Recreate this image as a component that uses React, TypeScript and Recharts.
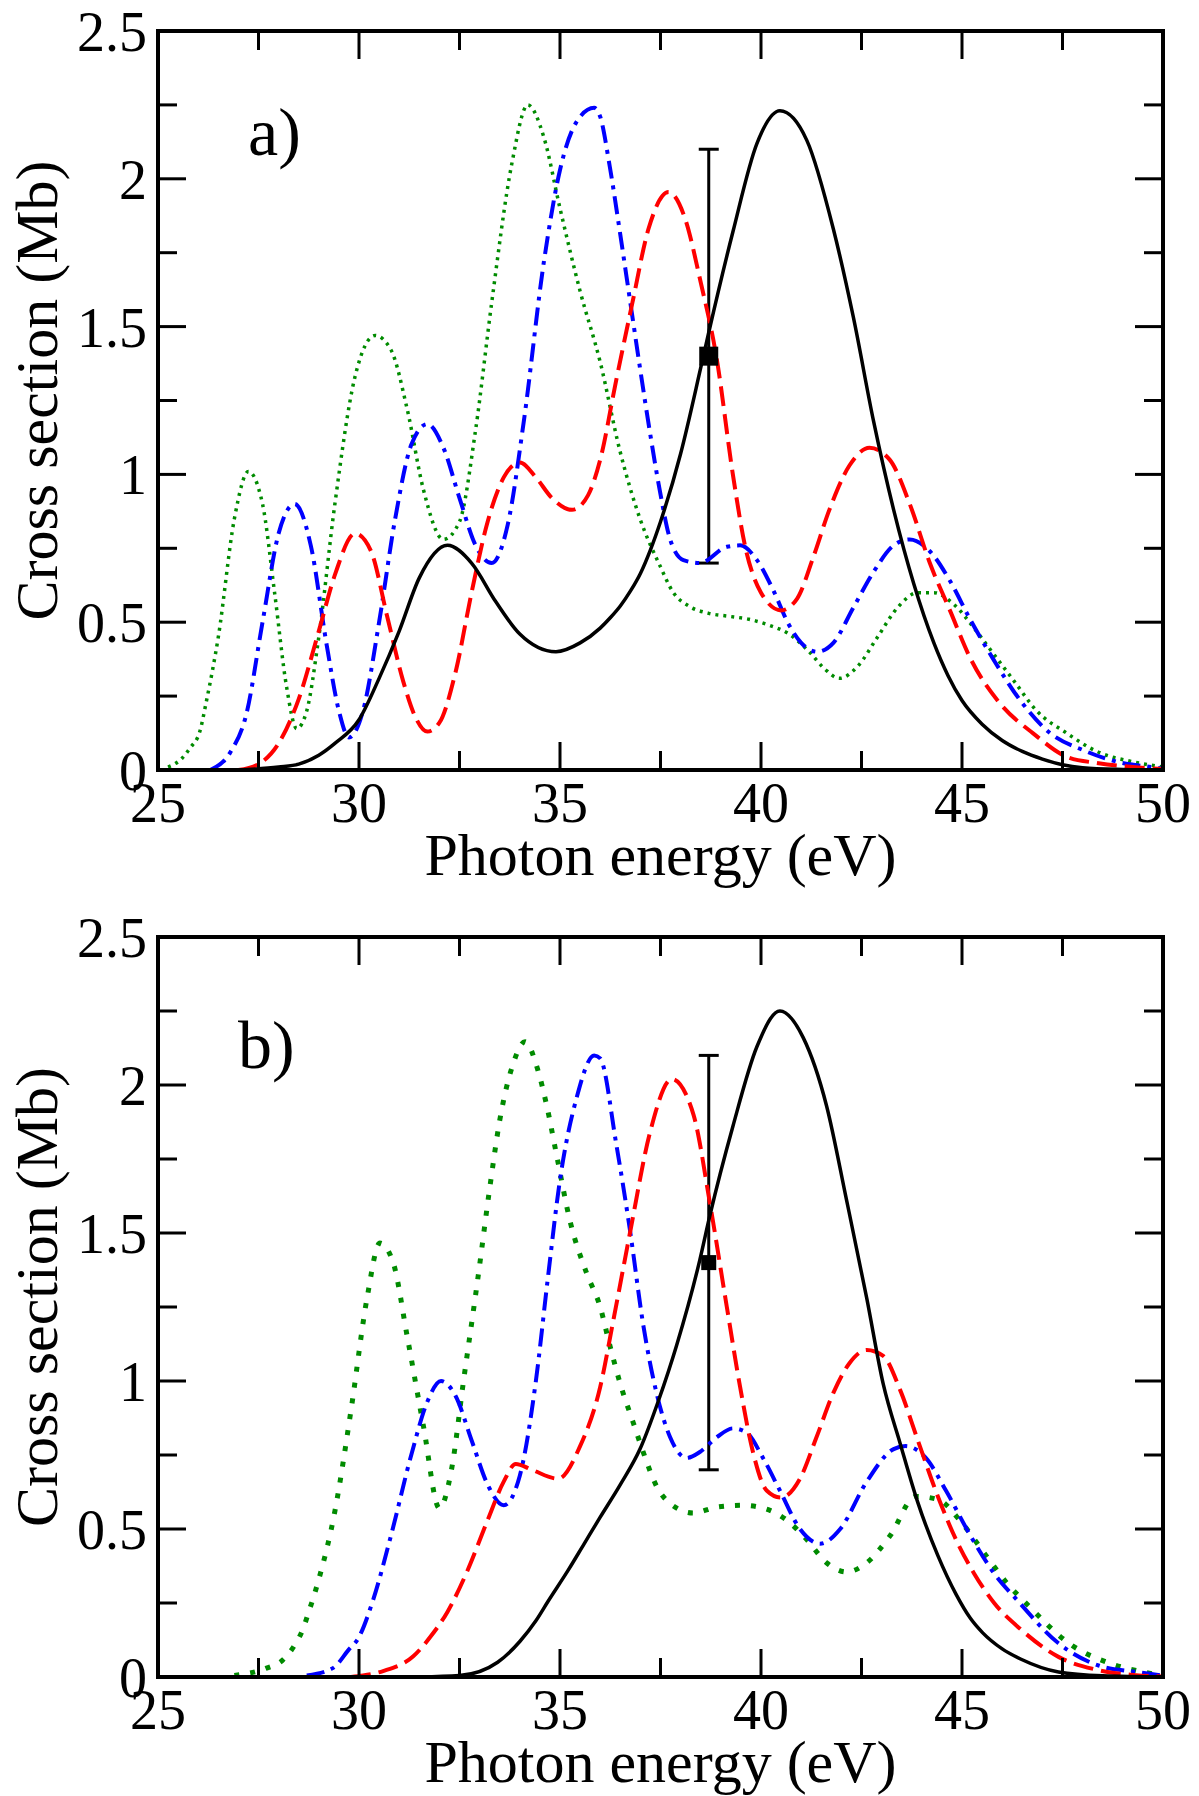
import React from "react";
import { ComposedChart, Line, Scatter, ErrorBar, XAxis, YAxis } from "recharts";

const SERIF = '"Liberation Serif", "Times New Roman", Times, serif';
const W = 1199;
const H = 898;

// axis ticks, minor ones included (labels only on the major ones)
const energyTicks = [25, 27.5, 30, 32.5, 35, 37.5, 40, 42.5, 45, 47.5, 50];
const sigmaTicks = [0, 0.25, 0.5, 0.75, 1, 1.25, 1.5, 1.75, 2, 2.25, 2.5];

// ---- panel a) ----
const aBlackE = [27.0, 28.0, 28.5, 29.0, 29.4, 30.0, 30.5, 31.0, 31.5, 32.2, 32.8, 33.4, 34.0, 34.9, 35.5, 36.0, 36.25, 36.5, 36.75, 37.0, 37.25, 37.5, 38.0, 38.5, 38.7, 39.3, 39.9, 40.47, 41.14, 41.8, 42.3, 42.8, 43.3, 43.8, 44.3, 44.65, 45.0, 45.5, 46.0, 46.5, 47.0, 47.5, 48.0, 49.0, 50.0];
const aBlackS = [0, 0.01, 0.02, 0.05, 0.09, 0.17, 0.31, 0.47, 0.65, 0.76, 0.70, 0.57, 0.46, 0.40, 0.43, 0.48, 0.515, 0.555, 0.605, 0.665, 0.745, 0.84, 1.07, 1.36, 1.48, 1.82, 2.12, 2.23, 2.13, 1.83, 1.53, 1.18, 0.88, 0.63, 0.43, 0.32, 0.235, 0.155, 0.10, 0.063, 0.037, 0.018, 0.008, 0.002, 0];

const aRedE = [27.0, 27.5, 28.0, 28.5, 29.0, 29.4, 29.9, 30.3, 30.7, 31.1, 31.4, 31.7, 32.0, 32.4, 32.8, 33.2, 33.6, 34.0, 34.4, 34.8, 35.3, 35.7, 36.0, 36.4, 36.8, 37.2, 37.7, 38.1, 38.5, 38.9, 39.3, 39.6, 40.0, 40.5, 40.9, 41.3, 41.7, 42.2, 42.7, 43.2, 43.7, 44.2, 44.7, 45.2, 45.94, 46.77, 47.6, 48.4, 49.25, 50.0];
const aRedS = [0, 0.02, 0.09, 0.24, 0.47, 0.66, 0.80, 0.74, 0.52, 0.30, 0.18, 0.13, 0.16, 0.33, 0.60, 0.84, 0.99, 1.04, 0.99, 0.92, 0.88, 0.93, 1.05, 1.32, 1.58, 1.83, 1.955, 1.87, 1.65, 1.39, 1.0, 0.76, 0.6, 0.54, 0.58, 0.72, 0.88, 1.03, 1.09, 1.05, 0.90, 0.70, 0.54, 0.38, 0.226, 0.124, 0.045, 0.023, 0.01, 0.003];

const aBlueE = [26.3, 26.8, 27.2, 27.6, 28.0, 28.4, 28.8, 29.2, 29.5, 29.75, 30.1, 30.5, 30.9, 31.3, 31.7, 32.1, 32.5, 32.9, 33.3, 33.7, 34.1, 34.6, 35.0, 35.4, 35.85, 36.0, 36.24, 36.49, 36.74, 36.99, 37.24, 37.49, 37.74, 38.07, 38.48, 39.15, 39.48, 39.9, 40.3, 40.7, 41.0, 41.4, 41.8, 42.3, 42.8, 43.3, 43.7, 44.2, 44.7, 45.2, 45.8, 46.44, 47.19, 48.0, 48.86, 49.7, 50];
const aBlueS = [0, 0.06, 0.19, 0.50, 0.80, 0.90, 0.76, 0.42, 0.20, 0.11, 0.20, 0.50, 0.85, 1.10, 1.17, 1.09, 0.92, 0.76, 0.70, 0.83, 1.18, 1.72, 2.03, 2.19, 2.24, 2.21, 2.04, 1.82, 1.59, 1.36, 1.14, 0.94, 0.78, 0.71, 0.70, 0.755, 0.76, 0.71, 0.61, 0.49, 0.43, 0.40, 0.43, 0.55, 0.67, 0.76, 0.78, 0.74, 0.64, 0.51, 0.37, 0.237, 0.125, 0.068, 0.028, 0.01, 0.005];

const aGreenE = [25.25, 25.6, 25.8, 26.04, 26.2, 26.5, 26.9, 27.25, 27.6, 27.9, 28.2, 28.45, 28.7, 29.0, 29.4, 29.9, 30.4, 30.8, 31.2, 31.6, 32.1, 32.5, 32.9, 33.3, 33.8, 34.2, 34.6, 35.0, 35.5, 36.0, 36.49, 36.99, 37.49, 37.82, 38.2, 38.7, 39.2, 39.7, 40.2, 40.7, 41.2, 41.6, 41.95, 42.4, 42.9, 43.4, 43.9, 44.3, 44.8, 45.3, 45.8, 46.3, 46.86, 47.6, 48.4, 49.25, 50];
const aGreenS = [0.01, 0.04, 0.075, 0.13, 0.23, 0.45, 0.85, 1.01, 0.90, 0.60, 0.28, 0.14, 0.20, 0.45, 0.90, 1.33, 1.47, 1.42, 1.22, 0.95, 0.78, 0.84, 1.15, 1.58, 2.05, 2.25, 2.14, 1.90, 1.62, 1.38, 1.08, 0.85, 0.69, 0.60, 0.555, 0.53, 0.52, 0.51, 0.49, 0.46, 0.40, 0.34, 0.31, 0.35, 0.45, 0.55, 0.60, 0.60, 0.56, 0.48, 0.39, 0.30, 0.20, 0.125, 0.06, 0.028, 0.01];

// ---- panel b) ----
const bBlackE = [31.5, 32.5, 33.45, 34.0, 34.4, 34.7, 35.2, 35.6, 36.0, 36.5, 36.99, 37.44, 37.9, 38.48, 38.73, 39.3, 39.9, 40.47, 41.05, 41.63, 42.13, 42.63, 43.04, 43.46, 43.9, 44.4, 44.85, 45.2, 45.51, 46.0, 46.47, 47.4, 48.5, 50];
const bBlackS = [0, 0.005, 0.05, 0.12, 0.19, 0.255, 0.36, 0.45, 0.54, 0.65, 0.77, 0.93, 1.12, 1.41, 1.56, 1.86, 2.13, 2.25, 2.16, 1.93, 1.61, 1.28, 0.99, 0.79, 0.59, 0.41, 0.28, 0.20, 0.15, 0.095, 0.06, 0.017, 0.004, 0];

const bRedE = [29.8, 30.1, 30.6, 31.35, 31.8, 32.2, 32.7, 33.2, 33.6, 33.9, 34.3, 34.95, 35.5, 36.0, 36.32, 36.74, 37.24, 37.78, 38.32, 38.73, 39.15, 39.48, 39.8, 40.14, 40.5, 40.97, 41.38, 41.8, 42.2, 42.63, 43.04, 43.46, 43.9, 44.4, 44.9, 45.3, 45.8, 46.47, 47.4, 48.37, 49.33, 50];
const bRedS = [0, 0.005, 0.02, 0.07, 0.14, 0.22, 0.36, 0.53, 0.66, 0.72, 0.70, 0.67, 0.78, 0.98, 1.20, 1.50, 1.84, 2.02, 1.90, 1.60, 1.25, 0.98, 0.76, 0.63, 0.606, 0.67, 0.81, 0.96, 1.06, 1.105, 1.085, 0.97, 0.80, 0.61, 0.45, 0.35, 0.25, 0.16, 0.068, 0.024, 0.006, 0.002];

const bBlueE = [28.7, 29.35, 29.73, 30.0, 30.35, 30.8, 31.3, 31.7, 32.04, 32.4, 32.8, 33.2, 33.6, 34.0, 34.4, 34.7, 35.0, 35.42, 35.85, 36.0, 36.4, 36.74, 37.07, 37.4, 37.74, 38.15, 38.48, 38.9, 39.3, 39.64, 40.05, 40.47, 40.97, 41.47, 41.97, 42.63, 43.3, 43.6, 44.1, 44.6, 45.2, 45.8, 46.37, 47.4, 48.37, 49.33, 50];
const bBlueS = [0.005, 0.03, 0.09, 0.135, 0.26, 0.48, 0.75, 0.93, 1.00, 0.95, 0.80, 0.65, 0.58, 0.68, 1.00, 1.35, 1.68, 1.96, 2.10, 2.09, 1.80, 1.51, 1.19, 0.96, 0.81, 0.74, 0.76, 0.81, 0.84, 0.826, 0.74, 0.63, 0.50, 0.45, 0.50, 0.66, 0.77, 0.78, 0.74, 0.63, 0.48, 0.35, 0.26, 0.114, 0.04, 0.017, 0.005];

const bGreenE = [26.9, 27.7, 28.1, 28.4, 28.6, 28.75, 29.0, 29.4, 29.8, 30.2, 30.52, 30.85, 31.2, 31.6, 32.0, 32.3, 32.6, 32.96, 33.26, 33.5, 33.83, 34.13, 34.45, 34.67, 34.92, 35.25, 35.66, 36.0, 36.24, 36.5, 36.82, 37.07, 37.4, 37.8, 38.32, 38.9, 39.56, 40.14, 40.64, 41.14, 41.63, 42.13, 42.63, 43.21, 43.85, 44.4, 45.0, 45.6, 46.1, 46.66, 47.7, 48.66, 49.5, 50];
const bGreenS = [0.005, 0.03, 0.057, 0.108, 0.16, 0.22, 0.33, 0.56, 0.90, 1.28, 1.466, 1.40, 1.15, 0.85, 0.57, 0.70, 1.00, 1.35, 1.66, 1.88, 2.07, 2.146, 2.05, 1.93, 1.76, 1.54, 1.365, 1.25, 1.12, 0.99, 0.86, 0.76, 0.645, 0.58, 0.554, 0.574, 0.58, 0.567, 0.53, 0.464, 0.386, 0.355, 0.386, 0.477, 0.61, 0.60, 0.52, 0.41, 0.32, 0.24, 0.11, 0.047, 0.017, 0.005];

// experimental point with its error bar (same in both panels)
const expE = [38.7];
const expS = [1.4];
const expErr = [0.7];

type Pt = { x: number; y: number; err?: number };
const zip = (e: number[], s: number[]): Pt[] => e.map((x, i) => ({ x, y: s[i] }));
const expPoint: Pt[] = expE.map((x, i) => ({ x, y: expS[i], err: expErr[i] }));

const isMajor = (v: number, step: number) => Math.abs(v / step - Math.round(v / step)) < 1e-6;
const AXIS = { stroke: "#000", strokeWidth: 4, strokeLinecap: "square" as const };
const TICK_FONT = 56;

const bottomTick = (p: any) => {
  const v = p.payload.value;
  const major = isMajor(v, 5);
  return (
    <g>
      <line x1={p.x} x2={p.x} y1={p.y} y2={p.y - (major ? 28 : 19)} stroke="#000" strokeWidth={3} />
      {major && (
        <text x={p.x} y={p.y + 52} textAnchor="middle" fontFamily={SERIF} fontSize={TICK_FONT} fill="#000">
          {v}
        </text>
      )}
    </g>
  );
};

const topTick = (p: any) => {
  const major = isMajor(p.payload.value, 5);
  return <line x1={p.x} x2={p.x} y1={p.y} y2={p.y + (major ? 28 : 19)} stroke="#000" strokeWidth={3} />;
};

const leftTick = (p: any) => {
  const v = p.payload.value;
  const major = isMajor(v, 0.5);
  return (
    <g>
      <line x1={p.x} x2={p.x + (major ? 28 : 19)} y1={p.y} y2={p.y} stroke="#000" strokeWidth={3} />
      {major && (
        <text x={p.x - 11} y={p.y + 20} textAnchor="end" fontFamily={SERIF} fontSize={TICK_FONT} fill="#000">
          {v}
        </text>
      )}
    </g>
  );
};

const rightTick = (p: any) => {
  const major = isMajor(p.payload.value, 0.5);
  return <line x1={p.x} x2={p.x - (major ? 28 : 19)} y1={p.y} y2={p.y} stroke="#000" strokeWidth={3} />;
};

const xLabel = (p: any) => {
  const vb = p.viewBox;
  return (
    <text x={vb.x + vb.width / 2} y={vb.y + 105} textAnchor="middle" fontFamily={SERIF} fontSize={60} fill="#000">
      Photon energy (eV)
    </text>
  );
};

const yLabel = (p: any) => {
  const vb = p.viewBox;
  const cx = vb.x + 57;
  const cy = vb.y + vb.height / 2 - 10;
  return (
    <text x={cx} y={cy} transform={`rotate(-90 ${cx} ${cy})`} textAnchor="middle" fontFamily={SERIF} fontSize={60} fill="#000">
      Cross section (Mb)
    </text>
  );
};

type PanelProps = {
  tag: string;
  tagX: number;
  tagY: number;
  topH: number;
  bottomH: number;
  black: Pt[];
  red: Pt[];
  blue: Pt[];
  green: Pt[];
  greenWidth: number;
  greenDash: string;
  square: number;
};

function Panel(p: PanelProps) {
  const sq = p.square;
  return (
    <div style={{ position: "relative", width: W, height: H }}>
      <ComposedChart width={W} height={H} margin={{ top: 0, right: 0, bottom: 0, left: 0 }}>
        <XAxis
          dataKey="x"
          type="number"
          domain={[25, 50]}
          ticks={energyTicks}
          interval={0}
          allowDataOverflow
          height={p.bottomH}
          tickSize={0}
          tickMargin={0}
          tickLine={false}
          axisLine={AXIS}
          tick={bottomTick}
          label={xLabel}
        />
        <XAxis
          xAxisId="top"
          orientation="top"
          dataKey="x"
          type="number"
          domain={[25, 50]}
          ticks={energyTicks}
          interval={0}
          allowDataOverflow
          height={p.topH}
          tickSize={0}
          tickMargin={0}
          tickLine={false}
          axisLine={AXIS}
          tick={topTick}
        />
        <YAxis
          type="number"
          domain={[0, 2.5]}
          ticks={sigmaTicks}
          interval={0}
          allowDataOverflow
          width={158}
          tickSize={0}
          tickMargin={0}
          tickLine={false}
          axisLine={AXIS}
          tick={leftTick}
          label={yLabel}
        />
        <YAxis
          yAxisId="right"
          orientation="right"
          type="number"
          domain={[0, 2.5]}
          ticks={sigmaTicks}
          interval={0}
          allowDataOverflow
          width={36}
          tickSize={0}
          tickMargin={0}
          tickLine={false}
          axisLine={AXIS}
          tick={rightTick}
        />
        <Scatter
          data={expPoint}
          dataKey="y"
          isAnimationActive={false}
          shape={(s: any) => <rect x={s.cx - sq / 2} y={s.cy - sq / 2} width={sq} height={sq} fill="#000" />}
        >
          <ErrorBar dataKey="err" direction="y" width={10} stroke="#000" strokeWidth={3} />
        </Scatter>
        <Line data={p.green} dataKey="y" type="monotone" stroke="#008b00" strokeWidth={p.greenWidth} strokeDasharray={p.greenDash} dot={false} isAnimationActive={false} />
        <Line data={p.blue} dataKey="y" type="monotone" stroke="#0000ff" strokeWidth={4} strokeDasharray="18 7 4 7" dot={false} isAnimationActive={false} />
        <Line data={p.red} dataKey="y" type="monotone" stroke="#ff0000" strokeWidth={4} strokeDasharray="20 8" dot={false} isAnimationActive={false} />
        <Line data={p.black} dataKey="y" type="monotone" stroke="#000" strokeWidth={3.5} dot={false} isAnimationActive={false} />
      </ComposedChart>
      <svg width={W} height={H} style={{ position: "absolute", left: 0, top: 0, pointerEvents: "none" }}>
        <text x={p.tagX} y={p.tagY} fontFamily={SERIF} fontSize={68} fill="#000">
          {p.tag}
        </text>
      </svg>
    </div>
  );
}

export default function App() {
  return (
    <div style={{ position: "absolute", left: 0, top: 0, width: W, height: 2 * H, background: "#fff" }}>
      <Panel
        tag="a)"
        tagX={248}
        tagY={155}
        topH={31}
        bottomH={128}
        black={zip(aBlackE, aBlackS)}
        red={zip(aRedE, aRedS)}
        blue={zip(aBlueE, aBlueS)}
        green={zip(aGreenE, aGreenS)}
        greenWidth={3.5}
        greenDash="3 5"
        square={19}
      />
      <Panel
        tag="b)"
        tagX={238}
        tagY={170}
        topH={39}
        bottomH={119}
        black={zip(bBlackE, bBlackS)}
        red={zip(bRedE, bRedS)}
        blue={zip(bBlueE, bBlueS)}
        green={zip(bGreenE, bGreenS)}
        greenWidth={5}
        greenDash="5 11"
        square={15}
      />
    </div>
  );
}
